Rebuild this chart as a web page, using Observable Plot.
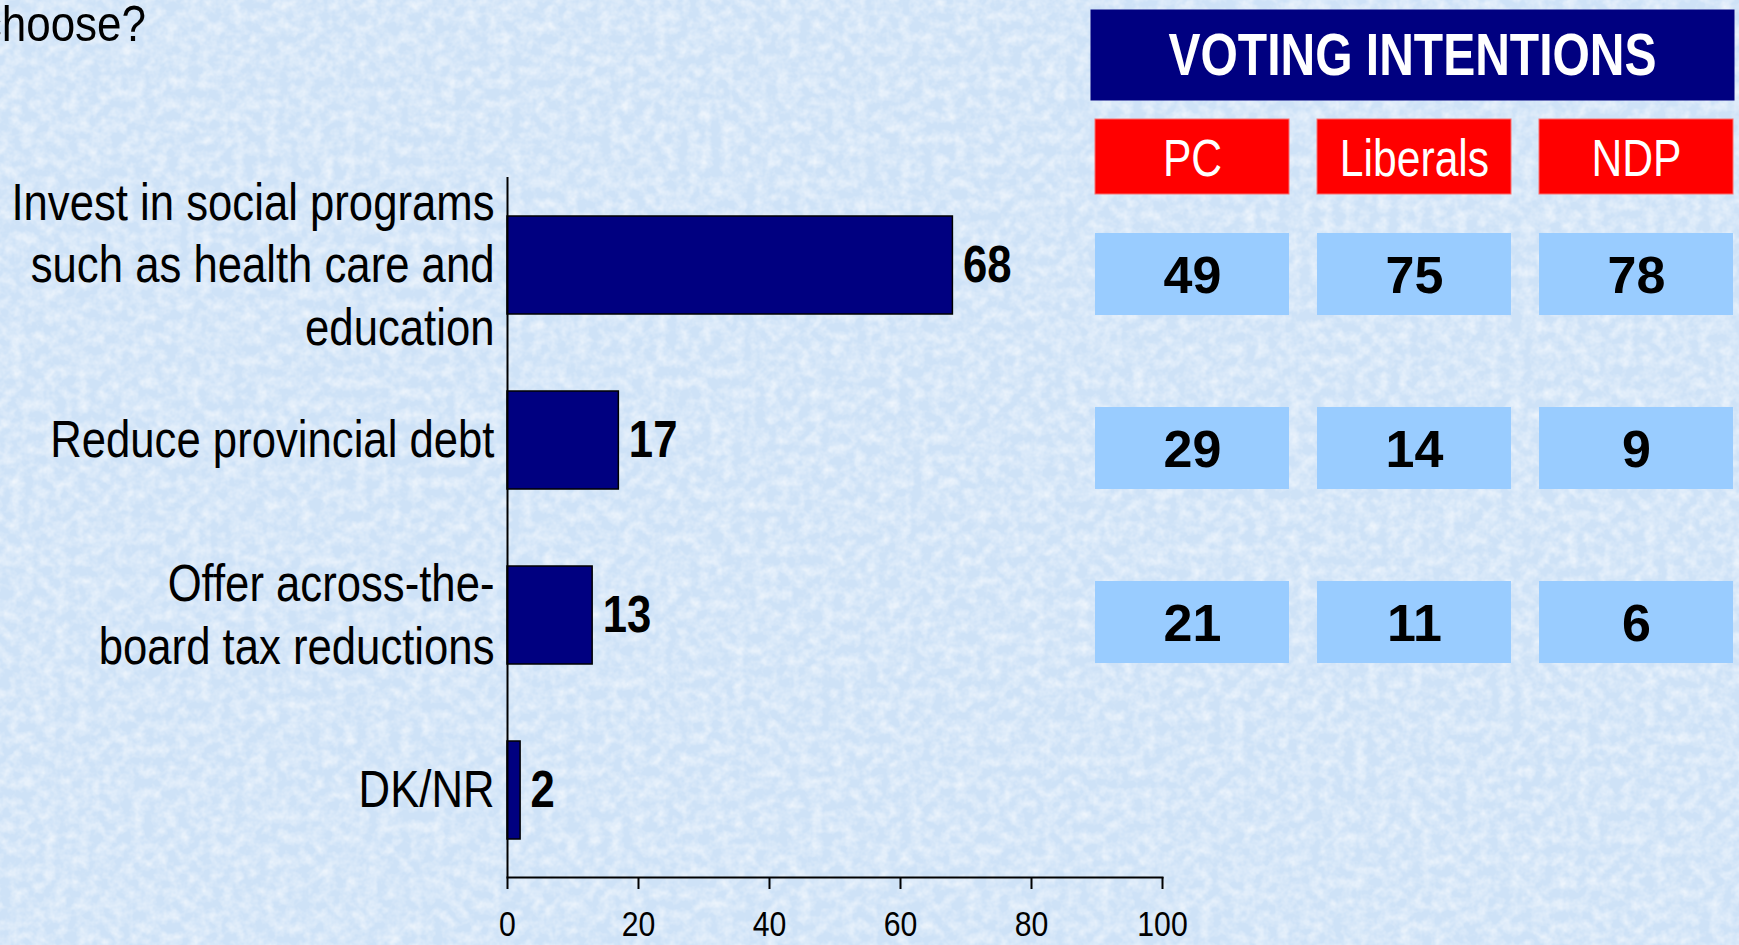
<!DOCTYPE html>
<html>
<head>
<meta charset="utf-8">
<script src="https://cdn.jsdelivr.net/npm/d3@7"></script>
<script src="https://cdn.jsdelivr.net/npm/@observablehq/plot@0.6"></script>
<style>
  html, body { margin: 0; padding: 0; overflow: hidden; }
  body { width: 1739px; height: 945px; background-color: #D5E6F8; font-family: "Liberation Sans", Arial, sans-serif; }
  #root { position: relative; width: 1739px; height: 945px; overflow: hidden; }
  .abs { position: absolute; }
  #question { position: absolute; right: 1593px; top: -1px; font-size: 50px; line-height: 50px; white-space: nowrap;
              transform: scaleX(0.88); transform-origin: right center; color: #000; }
</style>
</head>
<body>
<div id="root">
  <div id="question">choose?</div>
  <div id="bars" class="abs" style="left:0;top:0"></div>
  <div id="ttl" class="abs" style="left:1090px;top:9px"></div>
  <div id="hdr" class="abs" style="left:1080px;top:119px"></div>
  <div id="vals" class="abs" style="left:1080px;top:232px"></div>
</div>
<script>
// ---------- data ----------
const categories = [
  "Invest in social programs\nsuch as health care and\neducation",
  "Reduce provincial debt",
  "Offer across-the-\nboard tax reductions",
  "DK/NR"
];
const values = [68, 17, 13, 2];
const xTicks = [0, 20, 40, 60, 80, 100];
const tableTitle = "VOTING INTENTIONS";
const parties = ["PC", "Liberals", "NDP"];
const pcValues = [49, 29, 21];
const liberalValues = [75, 14, 11];
const ndpValues = [78, 9, 6];

// ---------- background texture ----------
const bgSvg = `<svg xmlns='http://www.w3.org/2000/svg' width='1739' height='945'>
<filter id='n' x='0' y='0' width='100%' height='100%'>
<feTurbulence type='fractalNoise' baseFrequency='0.09' numOctaves='3' seed='11'/>
<feColorMatrix type='matrix' values='0 0 0 0 1  0 0 0 0 1  0 0 0 0 1  1.1 0 0 0 -0.38'/>
</filter>
<rect width='1739' height='945' fill='#CEE2F7'/>
<rect width='1739' height='945' filter='url(#n)'/>
</svg>`;
document.body.style.backgroundImage = `url("data:image/svg+xml;utf8,${encodeURIComponent(bgSvg)}")`;

// ---------- helpers ----------
const FONT = '"Liberation Sans", Arial, sans-serif';
const NUM = /^\s*-?\d*\.?\d+\s*$/;
function condense(svg, sx) {
  svg.querySelectorAll("text").forEach(t => {
    let x = 0;
    const xa = t.getAttribute("x");
    if (xa != null && NUM.test(xa)) { x = +xa; t.removeAttribute("x"); }
    const tr = t.getAttribute("transform") || "";
    t.setAttribute("transform", `${tr} translate(${x},0) scale(${sx},1)`);
  });
}

// ---------- bar chart ----------
const barData = categories.map((c, i) => ({cat: c, value: values[i]}));
const barChart = Plot.plot({
  width: 1200,
  height: 945,
  marginLeft: 507,
  marginRight: 38,
  marginTop: 177,
  marginBottom: 68,
  style: {background: "transparent", fontFamily: FONT, color: "#000", overflow: "visible"},
  x: {domain: [0, 100], axis: null},
  y: {domain: categories, axis: null, paddingInner: 0.44, paddingOuter: 0.22},
  marks: [
    Plot.barX(barData, {x: "value", y: "cat", fill: "#000080", stroke: "#000", strokeWidth: 1.5}),
    Plot.ruleX([0], {stroke: "#000", strokeWidth: 2}),
    Plot.frame({anchor: "bottom", stroke: "#000", strokeWidth: 2}),
    Plot.axisX({ticks: xTicks, tickSize: 12, tickPadding: 21, fontSize: 36, label: null, stroke: "#000", strokeWidth: 2, tickFormat: d => String(d)}),
    Plot.text(barData, {x: 0, y: "cat", text: "cat", textAnchor: "end", dx: -13, dy: -3, fontSize: 52, lineHeight: 1.2, fill: "#000"}),
    Plot.text(barData, {x: "value", y: "cat", text: d => String(d.value), textAnchor: "start", dx: 10, fontSize: 52, fontWeight: "bold", fill: "#000"})
  ]
});
condense(barChart, 0.84);
document.getElementById("bars").appendChild(barChart);

// ---------- table title ----------
const ttl = Plot.plot({
  width: 644, height: 91, margin: 0,
  style: {background: "transparent", fontFamily: FONT, overflow: "visible"},
  marks: [
    Plot.frame({fill: "#000080", stroke: null}),
    Plot.text([tableTitle], {frameAnchor: "middle", text: d => d, fill: "#fff", fontSize: 60, fontWeight: "bold", dy: 1})
  ]
});
condense(ttl, 0.8);
document.getElementById("ttl").appendChild(ttl);

// ---------- party headers ----------
const hdr = Plot.plot({
  width: 659, height: 75, marginLeft: 14, marginRight: 5, marginTop: 0, marginBottom: 0,
  style: {background: "transparent", fontFamily: FONT, overflow: "visible"},
  x: {domain: parties, axis: null, paddingInner: 0.126, paddingOuter: 0},
  y: {domain: ["h"], axis: null, padding: 0},
  marks: [
    Plot.cell(parties, {x: d => d, y: () => "h", fill: "#FF0000", stroke: "#F87070", strokeWidth: 1}),
    Plot.text(parties, {x: d => d, y: () => "h", text: d => d, fill: "#fff", fontSize: 52, dy: 2})
  ]
});
condense(hdr, 0.82);
document.getElementById("hdr").appendChild(hdr);

// ---------- voting values ----------
const rows = categories.slice(0, 3);
const cellData = [];
const byParty = {PC: pcValues, Liberals: liberalValues, NDP: ndpValues};
parties.forEach(p => byParty[p].forEach((v, i) => cellData.push({party: p, row: rows[i], value: v})));
const vals = Plot.plot({
  width: 659, height: 432, marginLeft: 14, marginRight: 5, marginTop: 0, marginBottom: 0,
  style: {background: "transparent", fontFamily: FONT, overflow: "visible"},
  x: {domain: parties, axis: null, paddingInner: 0.126, paddingOuter: 0},
  y: {domain: rows, axis: null, paddingInner: 0.53, paddingOuter: 0},
  marks: [
    Plot.cell(cellData, {x: "party", y: "row", fill: "#99CCFF"}),
    Plot.text(cellData, {x: "party", y: "row", text: d => String(d.value), fill: "#000", fontSize: 52, fontWeight: "bold", dy: 2})
  ]
});
document.getElementById("vals").appendChild(vals);
</script>
</body>
</html>
